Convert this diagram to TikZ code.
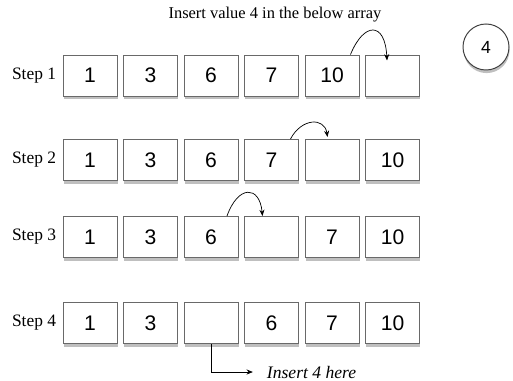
\documentclass[tikz,border=0pt]{standalone}
\usepackage{fontspec}
\setmainfont{Liberation Serif}
\newfontfamily\cellfont{Liberation Sans}
\usetikzlibrary{calc}
\usetikzlibrary{positioning,shapes,shadows}
\usetikzlibrary{arrows.meta}
\definecolor{boxgray}{RGB}{105,105,105}

\tikzset{
  cell/.style={draw=boxgray, line width=0.7pt, fill=white,
    minimum width=1.35cm, minimum height=1.025cm, inner sep=0pt,
    font=\cellfont\fontsize{15}{18}\selectfont,
    drop shadow={shadow xshift=0.4pt, shadow yshift=-2.2pt, opacity=0.5}},
  steplabel/.style={font=\fontsize{12.4}{14}\selectfont},
  move/.style={line width=0.5pt, ->}
}

\begin{document}
\begin{tikzpicture}[>={Stealth[length=4.5pt,width=3.6pt]}, x=0.025cm, y=-0.025cm]
  \useasboundingbox (0,0) rectangle (513,381);

  % ===================== title and value =====================
  \node[font=\fontsize{11.7}{14}\selectfont] (title) at (275,15) {Insert value 4 in the below array};
  \node[circle, draw=black!75, line width=0.7pt, fill=white, minimum size=1.15cm,
        font=\cellfont\fontsize{12.5}{14}\selectfont,
        drop shadow={shadow xshift=0.4pt, shadow yshift=-2.2pt, opacity=0.5}] (val) at (486,47) {4};

  % ===================== rows =====================
  \foreach \v [count=\i] in {1,3,6,7,10,{}}
    \node[cell] (r1c\i) at ({90+60.5*(\i-1)},75.5) {\v};
  \foreach \v [count=\i] in {1,3,6,7,{},10}
    \node[cell] (r2c\i) at ({90+60.5*(\i-1)},160) {\v};
  \foreach \v [count=\i] in {1,3,6,{},7,10}
    \node[cell] (r3c\i) at ({90+60.5*(\i-1)},237) {\v};
  \foreach \v [count=\i] in {1,3,{},6,7,10}
    \node[cell] (r4c\i) at ({90+60.5*(\i-1)},323) {\v};

  % step labels
  \node[steplabel, left=1pt of r1c1] (lab1) {Step 1};
  \node[steplabel, left=1pt of r2c1] (lab2) {Step 2};
  \node[steplabel, left=1pt of r3c1] (lab3) {Step 3};
  \node[steplabel, left=1pt of r4c1] (lab4) {Step 4};

  % ===================== shift arrows =====================
  \coordinate (from1) at ($(r1c5.north)+(18.5,0)$);
  \coordinate (to1) at ($(r1c6.north)+(-5.5,6)$);
  \coordinate (from2) at ($(r2c4.north)+(19,0)$);
  \coordinate (to2) at ($(r2c5.north)+(-4.5,-2)$);
  \coordinate (from3) at ($(r3c3.north)+(16,0)$);
  \coordinate (to3) at ($(r3c4.north)+(-9,0)$);

  \draw[move] (from1) .. controls +(13,-32) and +(-2,-40) .. (to1);
  \draw[move] (from2) .. controls +(11,-21) and +(-3,-20) .. (to2);
  \draw[move] (from3) .. controls +(11,-31) and +(-3,-31) .. (to3);

  % ===================== insert here =====================
  \node[anchor=west, font=\itshape\fontsize{12.5}{14}\selectfont] (ins) at (262,372) {Insert 4 here};
  \draw[move, shorten >=6.5pt] (r4c3.south) |- (ins.west);
\end{tikzpicture}
\end{document}
